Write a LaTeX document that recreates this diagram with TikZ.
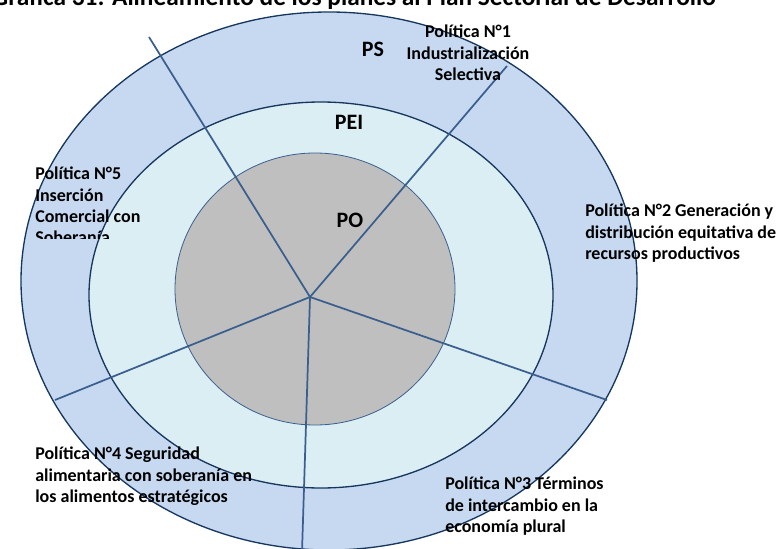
\documentclass[tikz,border=0pt]{standalone}
\usepackage{fontspec}
\setmainfont{Carlito}
\definecolor{psblue}{HTML}{C6D9F1}
\definecolor{peiaqua}{HTML}{DBEEF4}
\definecolor{pogray}{HTML}{BFBFBF}
\definecolor{rimnavy}{HTML}{17375E}
\definecolor{spoke}{HTML}{3A5F8E}
\begin{document}
\begin{tikzpicture}[x=0.75pt,y=-0.75pt,
  rim/.style={draw=rimnavy,line width=1pt},
  spokeline/.style={draw=spoke,line width=1.3pt},
  lbl/.style={font=\bfseries\fontsize{13.5}{16}\selectfont,inner sep=0pt,align=left},
  ringlbl/.style={font=\bfseries\fontsize{16.5}{18}\selectfont,inner sep=0pt}]
\useasboundingbox (0,0) rectangle (781,549);
\begin{scope}
\clip (0,0) rectangle (781,549);
\node[font=\bfseries\fontsize{19}{22}\selectfont,anchor=base,inner sep=0pt] (title) at (354,6) {Gráfica 31: Alineamiento de los planes al Plan Sectorial de Desarrollo};
\path[rim,fill=psblue] (329,281) ellipse [x radius=308,y radius=269];
\path[rim,fill=peiaqua] (321,295) ellipse [x radius=232,y radius=193];
\path[draw=spoke,line width=0.6pt,fill=pogray] (315,289) ellipse [x radius=140,y radius=136];
\coordinate (c) at (310,297);
\coordinate (e1) at (507,66);
\coordinate (e2) at (149,37);
\coordinate (e3) at (55,400);
\coordinate (e4) at (302,552);
\coordinate (e5) at (607,400);
\draw[spokeline] (c) -- (e1);
\draw[spokeline] (c) -- (e2);
\draw[spokeline] (c) -- (e3);
\draw[spokeline] (c) -- (e4);
\draw[spokeline] (c) -- (e5);
\node[ringlbl] (ps) at (373,49) {PS};
\node[ringlbl] (pei) at (349,122) {PEI};
\node[ringlbl] (po) at (350,220) {PO};
\node[lbl,align=center,anchor=north] (p1) at (468,25) {Política N°1\\Industrialización\\Selectiva};
\node[lbl,anchor=north west] (p2) at (585,204) {Política N°2 Generación y\\distribución equitativa de\\recursos productivos};
\node[lbl,anchor=north west] (p3) at (445,477) {Política N°3 Términos\\de intercambio en la\\economía plural};
\node[lbl,anchor=north west] (p4) at (35,447) {Política N°4 Seguridad\\alimentaria con soberanía en\\los alimentos estratégicos};
\begin{scope}
\clip (0,150) rectangle (300,238);
\node[lbl,anchor=north west] (p5) at (35,167) {Política N°5\\Inserción\\Comercial con\\Soberanía};
\end{scope}
\end{scope}
\end{tikzpicture}
\end{document}
